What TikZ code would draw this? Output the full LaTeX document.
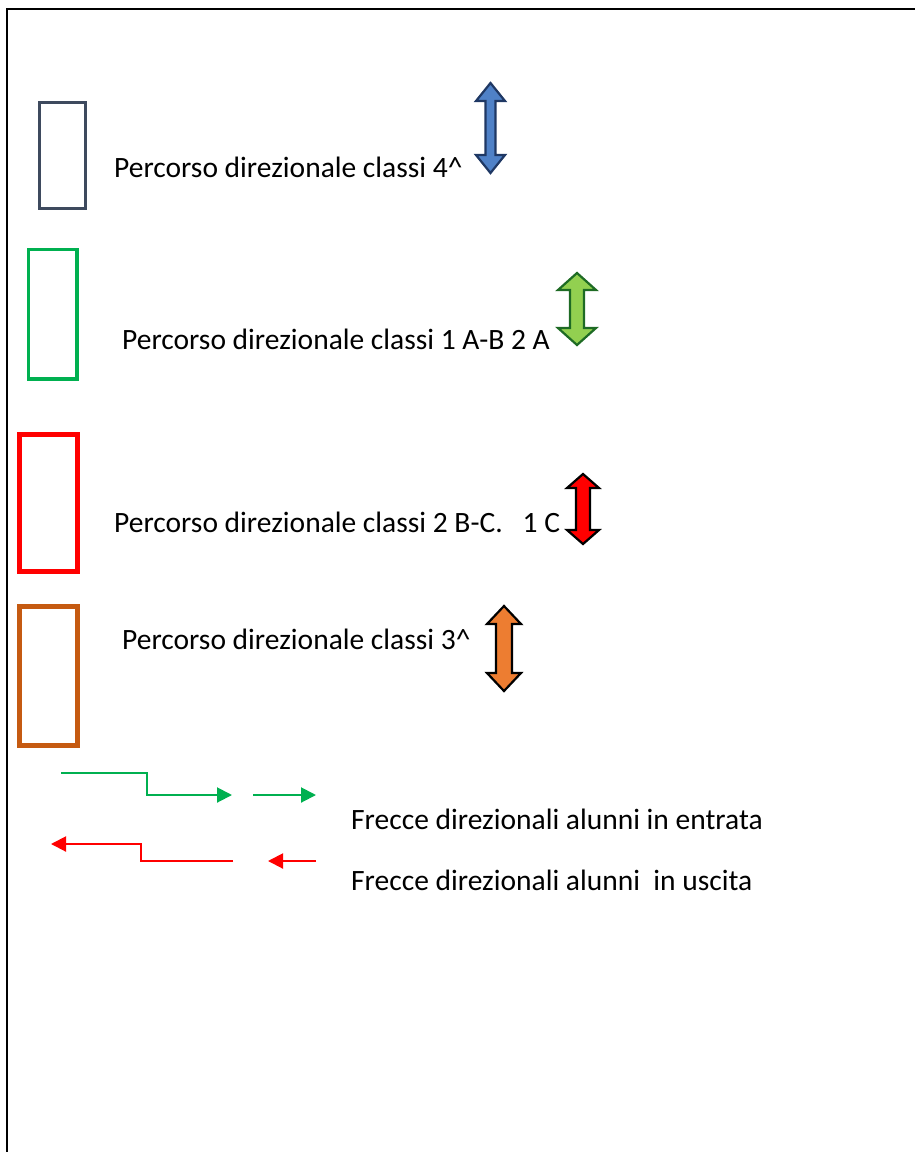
\documentclass[tikz,border=0pt]{standalone}
\usepackage{fontspec}
\setmainfont{Carlito}
\usetikzlibrary{arrows.meta}
\definecolor{slate}{HTML}{3E4A5E}
\definecolor{boxgreen}{HTML}{00B050}
\definecolor{boxred}{HTML}{FF0000}
\definecolor{boxorange}{HTML}{C55A11}
\definecolor{bluefill}{HTML}{4F81C7}
\definecolor{bluedraw}{HTML}{1F3864}
\definecolor{greenfill}{HTML}{92D050}
\definecolor{greendraw}{HTML}{1E6B24}
\definecolor{orangefill}{HTML}{ED7D31}
\newcommand\dblarr[7]{%
  \draw[#1] (#2,#3) -- (#2+#5,#3+#7) -- (#2+#6,#3+#7) -- (#2+#6,#4-#7) -- (#2+#5,#4-#7)
    -- (#2,#4) -- (#2-#5,#4-#7) -- (#2-#6,#4-#7) -- (#2-#6,#3+#7) -- (#2-#5,#3+#7) -- cycle;}
\tikzset{
  label/.style={anchor=base west, inner sep=0pt, font=\fontsize{29.5}{31}\selectfont},
  legendbox/.style={line width=#1},
  dbl/.style={line width=2.2pt, line join=miter},
  flow/.style={line width=2pt, -{Triangle[length=15pt,width=15pt]}},
}
\begin{document}
\begin{tikzpicture}[x=1pt,y=-1pt]
\useasboundingbox (0,0) rectangle (915,1152);
% page frame
\draw[line width=2pt] (6.5,1152) -- (6.5,9) -- (915,9);
% legend boxes
\draw[legendbox=3.5pt, slate] (39.5,102.5) rectangle (85.5,208.5);
\draw[legendbox=3.5pt, boxgreen] (28.5,249.5) rectangle (77,379);
\draw[legendbox=5pt, boxred] (19.5,434.5) rectangle (77,571.5);
\draw[legendbox=5pt, boxorange] (19.5,606.5) rectangle (77,745.5);
% labels
\node[label] (l1) at (114,177) {Percorso direzionale classi 4\^{}};
\node[label] (l2) at (122,349) {Percorso direzionale classi 1 A-B 2 A};
\node[label] (l3) at (114,532) {Percorso direzionale classi 2 B-C.\ \ \ 1 C};
\node[label] (l4) at (122,649) {Percorso direzionale classi 3\^{}};
\node[label] (l5) at (351,829) {Frecce direzionali alunni in entrata};
\node[label] (l6) at (351,890) {Frecce direzionali alunni\ \ in uscita};
% double arrows
\dblarr{dbl, fill=bluefill, draw=bluedraw}{490.5}{83}{173}{14.5}{5}{18}
\dblarr{dbl, fill=greenfill, draw=greendraw}{577}{273}{345}{19}{7}{17}
\dblarr{dbl, fill=boxred, draw=black}{583}{474}{544}{16}{7}{14}
\dblarr{dbl, fill=orangefill, draw=black}{504}{606}{691}{17}{8}{18}
% direction arrows
\coordinate (g1s) at (61,773);
\coordinate (g1e) at (232,795);
\coordinate (g2s) at (253,795);
\coordinate (g2e) at (316,795);
\coordinate (r1s) at (233,861);
\coordinate (r1e) at (51,844);
\coordinate (r2s) at (316,861);
\coordinate (r2e) at (268,861);
\draw[flow, boxgreen] (g1s) -- (147,773) -- (147,795) -- (g1e);
\draw[flow, boxgreen] (g2s) -- (g2e);
\draw[flow, boxred] (r1s) -- (141,861) -- (141,844) -- (r1e);
\draw[flow, boxred] (r2s) -- (r2e);
\end{tikzpicture}
\end{document}
